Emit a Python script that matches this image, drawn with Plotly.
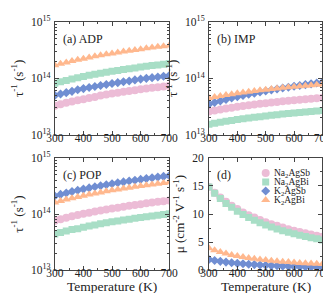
import plotly.graph_objects as go

temps = [300, 320, 340, 360, 380, 400, 420, 440, 460, 480, 500,
         520, 540, 560, 580, 600, 620, 640, 660, 680, 700]

materials = ["Na<sub>2</sub>AgSb", "Na<sub>2</sub>AgBi", "K<sub>2</sub>AgSb", "K<sub>2</sub>AgBi"]

# (a) ADP scattering rates (1e14 s^-1)
adp_na2agsb = [0.33,0.35,0.37,0.39,0.41,0.43,0.45,0.47,0.50,0.52,0.54,0.56,0.58,0.60,0.62,0.64,0.66,0.68,0.70,0.72,0.74]
adp_na2agbi = [0.82,0.87,0.92,0.97,1.03,1.08,1.13,1.18,1.23,1.28,1.33,1.38,1.43,1.48,1.53,1.58,1.63,1.68,1.73,1.78,1.83]
adp_k2agsb = [0.50,0.53,0.56,0.59,0.63,0.66,0.69,0.72,0.75,0.78,0.81,0.84,0.87,0.90,0.94,0.97,1.00,1.03,1.06,1.09,1.12]
adp_k2agbi = [1.70,1.81,1.91,2.02,2.13,2.23,2.34,2.45,2.55,2.66,2.76,2.87,2.97,3.08,3.18,3.28,3.39,3.49,3.60,3.70,3.80]

# (b) IMP scattering rates (1e13 s^-1)
imp_na2agsb = [2.60,2.71,2.82,2.93,3.04,3.14,3.25,3.35,3.45,3.55,3.64,3.74,3.83,3.93,4.02,4.11,4.20,4.29,4.38,4.46,4.55]
imp_na2agbi = [1.55,1.62,1.68,1.75,1.81,1.87,1.94,2.00,2.06,2.11,2.17,2.23,2.28,2.34,2.39,2.45,2.50,2.56,2.61,2.66,2.71]
imp_k2agsb = [3.50,3.75,3.99,4.24,4.49,4.74,4.98,5.23,5.48,5.73,5.99,6.23,6.49,6.74,6.99,7.25,7.50,7.76,8.01,8.26,8.52]
imp_k2agbi = [4.50,4.70,4.89,5.08,5.26,5.44,5.62,5.80,5.97,6.14,6.30,6.47,6.63,6.80,6.95,7.11,7.27,7.42,7.57,7.72,7.87]

# (c) POP scattering rates (1e14 s^-1)
pop_na2agsb = [0.76,0.81,0.86,0.91,0.96,1.01,1.06,1.11,1.16,1.20,1.25,1.30,1.35,1.40,1.45,1.50,1.55,1.60,1.65,1.69,1.74]
pop_na2agbi = [0.44,0.47,0.50,0.53,0.55,0.58,0.61,0.64,0.67,0.70,0.73,0.75,0.78,0.81,0.84,0.87,0.90,0.92,0.95,0.98,1.01]
pop_k2agsb = [2.10,2.24,2.37,2.51,2.65,2.78,2.92,3.06,3.19,3.33,3.46,3.60,3.74,3.87,4.01,4.14,4.28,4.41,4.55,4.68,4.82]
pop_k2agbi = [1.60,1.70,1.81,1.91,2.02,2.12,2.23,2.33,2.43,2.54,2.64,2.74,2.85,2.95,3.05,3.16,3.26,3.36,3.47,3.57,3.67]

# (d) mobility (cm^2 V^-1 s^-1)
mu_na2agsb = [14.8,13.8,12.95,12.2,11.5,10.9,10.3,9.8,9.4,8.95,8.55,8.2,7.9,7.6,7.3,7.05,6.8,6.6,6.35,6.15,5.95]
mu_na2agbi = [14.8,13.7,12.75,11.9,11.2,10.5,9.9,9.4,8.9,8.45,8.05,7.7,7.35,7.05,6.75,6.5,6.25,6.0,5.8,5.6,5.4]
mu_k2agsb = [1.9,1.73,1.58,1.45,1.33,1.23,1.15,1.07,1.00,0.94,0.88,0.83,0.79,0.74,0.71,0.67,0.64,0.61,0.58,0.56,0.53]
mu_k2agbi = [3.9,3.54,3.23,2.97,2.73,2.53,2.36,2.20,2.06,1.93,1.81,1.71,1.61,1.53,1.45,1.38,1.31,1.25,1.19,1.14,1.10]

colors = ["rgb(236,188,214)", "rgb(168,222,198)", "rgb(112,142,210)", "rgb(255,184,142)"]
symbols = ["circle", "square", "diamond", "triangle-up"]
sizes = [8, 7, 7, 8]

panels = [
    ("x", "y", [[v*1e14 for v in adp_na2agsb], [v*1e14 for v in adp_na2agbi], [v*1e14 for v in adp_k2agsb], [v*1e14 for v in adp_k2agbi]]),
    ("x2", "y2", [[v*1e13 for v in imp_na2agsb], [v*1e13 for v in imp_na2agbi], [v*1e13 for v in imp_k2agsb], [v*1e13 for v in imp_k2agbi]]),
    ("x3", "y3", [[v*1e14 for v in pop_na2agsb], [v*1e14 for v in pop_na2agbi], [v*1e14 for v in pop_k2agsb], [v*1e14 for v in pop_k2agbi]]),
    ("x4", "y4", [mu_na2agsb, mu_na2agbi, mu_k2agsb, mu_k2agbi]),
]

fig = go.Figure()
for pi, (xa, ya, series) in enumerate(panels):
    for si, ys in enumerate(series):
        fig.add_trace(go.Scatter(
            x=temps, y=ys, xaxis=xa, yaxis=ya, mode="markers",
            name=materials[si], showlegend=False,
            marker=dict(symbol=symbols[si], size=sizes[si], color=colors[si], line=dict(width=0)),
        ))

# Compact legend inside panel (d): key markers on an overlay axis, labels as annotations
leg_x = 0.5
leg_y = [0.865, 0.785, 0.705, 0.625]
for si in range(4):
    fig.add_trace(go.Scatter(
        x=[leg_x], y=[leg_y[si]], xaxis="x5", yaxis="y5", mode="markers", showlegend=False,
        hoverinfo="skip",
        marker=dict(symbol=symbols[si], size=sizes[si], color=colors[si], line=dict(width=0)),
    ))
    fig.add_annotation(text=materials[si], xref="x5", yref="y5", x=leg_x + 0.055, y=leg_y[si],
                       xanchor="left", yanchor="middle", showarrow=False,
                       font=dict(family="Liberation Serif", size=9.5, color="#222"))

font = "Liberation Serif"
xl = [40/331, 161/331]
xr = [203/331, 323/331]
yt = [1-125/293, 1-6/293]
yb = [1-267/293, 1-149/293]

minor_log = [k*10**e for e in (13, 14) for k in range(2, 10)]

def xaxis(domain, anchor):
    return dict(domain=domain, anchor=anchor, range=[300, 700], tickvals=[300, 400, 500, 600, 700],
                ticks="inside", ticklen=4, mirror="allticks", showline=True, linecolor="#444", linewidth=1,
                showgrid=False, zeroline=False, tickfont=dict(family=font, size=11.5, color="#222"),
                ticklabelstandoff=-8,
                minor=dict(ticks="inside", ticklen=2, tickvals=[350, 450, 550, 650], tickcolor="#444"))

def ylog(domain, anchor):
    return dict(domain=domain, anchor=anchor, type="log", range=[13, 15],
                tickvals=[1e13, 1e14, 1e15], ticktext=["10<sup>13</sup>", "10<sup>14</sup>", "10<sup>15</sup>"],
                ticks="inside", ticklen=4, mirror="allticks", showline=True, linecolor="#444", linewidth=1,
                showgrid=False, zeroline=False, tickfont=dict(family=font, size=11.5, color="#222"),
                ticklabelstandoff=1,
                minor=dict(ticks="inside", ticklen=2, tickvals=minor_log, tickcolor="#444"),
                title=dict(text="τ<sup>-1</sup> (s<sup>-1</sup>)", font=dict(family=font, size=13, color="#222"), standoff=4))

fig.update_layout(
    width=331, height=293, margin=dict(l=0, r=0, t=0, b=0),
    plot_bgcolor="white", paper_bgcolor="white",
    font=dict(family=font, color="#222"),
    xaxis=xaxis(xl, "y"),
    yaxis=ylog(yt, "x"),
    xaxis2=xaxis(xr, "y2"),
    yaxis2=ylog(yt, "x2"),
    xaxis3=xaxis(xl, "y3"),
    yaxis3=ylog(yb, "x3"),
    xaxis4=xaxis(xr, "y4"),
    yaxis4=dict(domain=yb, anchor="x4", range=[0, 20], tickvals=[0, 5, 10, 15, 20],
                ticks="inside", ticklen=4, mirror="allticks", showline=True, linecolor="#444", linewidth=1,
                showgrid=False, zeroline=False, tickfont=dict(family=font, size=11.5, color="#222"),
                ticklabelstandoff=2,
                minor=dict(ticks="inside", ticklen=2, tickvals=[2.5, 7.5, 12.5, 17.5], tickcolor="#444"),
                title=dict(text="μ (cm<sup>-2</sup> V<sup>-1</sup> s<sup>-1</sup>)", font=dict(family=font, size=13, color="#222"), standoff=4)),
    xaxis5=dict(overlaying="x4", anchor="y5", range=[0, 1], visible=False, fixedrange=True),
    yaxis5=dict(overlaying="y4", anchor="x5", range=[0, 1], visible=False, fixedrange=True),
    showlegend=False,
)

labels = [("(a) ADP", "x domain", "y domain"), ("(b) IMP", "x2 domain", "y2 domain"),
          ("(c) POP", "x3 domain", "y3 domain"), ("(d)", "x4 domain", "y4 domain")]
for text, xr_, yr_ in labels:
    fig.add_annotation(text=text, xref=xr_, yref=yr_, x=0.05, y=0.93, xanchor="left", yanchor="top",
                       showarrow=False, font=dict(family=font, size=12, color="#222"))

for xd in ("x3 domain", "x4 domain"):
    fig.add_annotation(text="Temperature (K)", xref=xd, yref="paper", x=0.5, y=1-284/293,
                       xanchor="center", yanchor="middle", showarrow=False,
                       font=dict(family=font, size=13.5, color="#222"))

fig.write_html("out.html")
